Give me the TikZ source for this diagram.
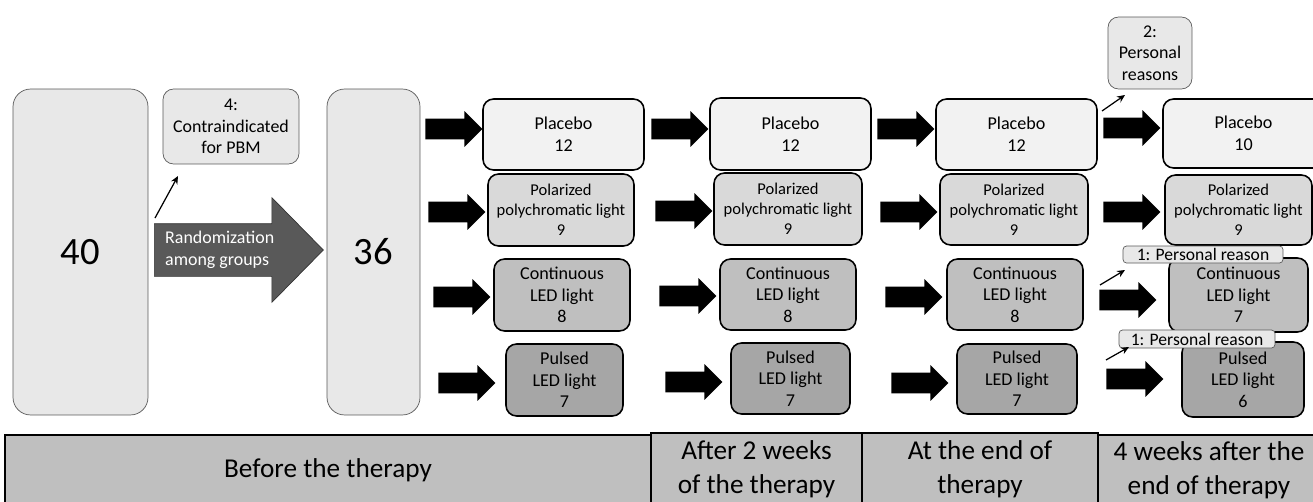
\documentclass[tikz,border=0pt]{standalone}
\usepackage{fontspec}
\setmainfont{Carlito}
\usetikzlibrary{shapes.arrows,arrows.meta}

\begin{document}
\begin{tikzpicture}[x=0.02cm,y=-0.02cm,
        granite/.style={draw=black!65, fill=black!9, rounded corners=6pt, align=center, inner sep=0pt, font=\fontsize{10.2}{12.3}\selectfont},
        group/.style={draw=black, line width=0.9pt, rounded corners=6pt, align=center, inner sep=0pt, font=\fontsize{10.3}{12.3}\selectfont},
        placebo/.style={group, fill=black!5},
        polar/.style={group, fill=black!15, font=\fontsize{9.4}{11.4}\selectfont},
        cont/.style={group, fill=black!25},
        pulse/.style={group, fill=black!35},
        blockarrow/.style={single arrow, anchor=tail, fill=black, inner xsep=0pt, inner ysep=0.2cm, minimum height=1.14cm, single arrow head extend=0.15cm, single arrow tip angle=90},
        dropout/.style={-{Stealth[length=4.5pt,width=4pt]}, line width=0.7pt},
        period/.style={draw=black, line width=0.9pt, fill=black!25, inner sep=0pt, align=center, font=\fontsize{15.5}{19.5}\selectfont}
    ]
    \useasboundingbox (0,0) rectangle (1313,501);

    % enrolment and randomization
    \node[granite, minimum width=2.7cm, minimum height=6.52cm, rounded corners=10pt, font=\fontsize{22}{26}\selectfont] (n40) at (80.5,252) {40};
    \node[granite, minimum width=2.72cm, minimum height=1.5cm] (excl) at (231,126.5) {4:\\Contraindicated\\for PBM};
    \node[granite, minimum width=1.86cm, minimum height=6.52cm, rounded corners=10pt, font=\fontsize{22}{26}\selectfont] (n36) at (373.5,252) {36};
    \node[single arrow, anchor=tail, draw=black!80, fill=black!65, inner xsep=0pt, inner ysep=0.52cm, minimum height=3.38cm, single arrow head extend=0.52cm, single arrow tip angle=91] (rand) at (154,250) {};
    \node[anchor=west, align=left, text=white, font=\fontsize{10.2}{12.5}\selectfont] (randtxt) at ([xshift=0.1cm]rand.tail) {Randomization\\among groups};

    \coordinate (d0s) at (155,218);
    \coordinate (d0e) at (178,176);
    \draw[dropout] (d0s) -- (d0e);

    % before the therapy
    \node[blockarrow] (a11) at (425,129) {};
    \node[blockarrow] (a12) at (428,212) {};
    \node[blockarrow] (a13) at (433,297) {};
    \node[blockarrow] (a14) at (438,383) {};

    \node[placebo, minimum width=3.22cm, minimum height=1.42cm] (pl1) at (563.5,134.5) {Placebo\\12};
    \node[polar, minimum width=2.92cm, minimum height=1.44cm] (po1) at (561,210) {Polarized\\polychromatic light\\9};
    \node[cont, minimum width=2.72cm, minimum height=1.44cm] (co1) at (562,295) {Continuous\\LED light\\8};
    \node[pulse, minimum width=2.34cm, minimum height=1.44cm] (pu1) at (564.5,380) {Pulsed\\LED light\\7};

    % after 2 weeks
    \node[blockarrow] (a21) at (651,129) {};
    \node[blockarrow] (a22) at (655,211) {};
    \node[blockarrow] (a23) at (659,296) {};
    \node[blockarrow] (a24) at (665,382) {};

    \node[placebo, minimum width=3.22cm, minimum height=1.44cm] (pl2) at (790.5,134) {Placebo\\12};
    \node[polar, minimum width=2.96cm, minimum height=1.44cm] (po2) at (788,209) {Polarized\\polychromatic light\\9};
    \node[cont, minimum width=2.72cm, minimum height=1.42cm] (co2) at (788,294.5) {Continuous\\LED light\\8};
    \node[pulse, minimum width=2.38cm, minimum height=1.42cm] (pu2) at (790.5,378.5) {Pulsed\\LED light\\7};

    % end of therapy
    \node[blockarrow] (a31) at (877,129) {};
    \node[blockarrow] (a32) at (880,212) {};
    \node[blockarrow] (a33) at (885,297) {};
    \node[blockarrow] (a34) at (891,383) {};

    \node[placebo, minimum width=3.22cm, minimum height=1.42cm] (pl3) at (1016.5,134.5) {Placebo\\12};
    \node[polar, minimum width=2.96cm, minimum height=1.42cm] (po3) at (1014,209.5) {Polarized\\polychromatic light\\9};
    \node[cont, minimum width=2.72cm, minimum height=1.42cm] (co3) at (1015,294.5) {Continuous\\LED light\\8};
    \node[pulse, minimum width=2.40cm, minimum height=1.40cm] (pu3) at (1017,379) {Pulsed\\LED light\\7};

    % 4 weeks after
    \node[blockarrow] (a41) at (1103,128) {};
    \node[blockarrow] (a42) at (1103,212) {};
    \node[blockarrow] (a43) at (1099,300) {};
    \node[blockarrow] (a44) at (1106,379) {};

    \node[placebo, minimum width=3.22cm, minimum height=1.38cm] (pl4) at (1243.5,133.5) {Placebo\\10};
    \node[polar, minimum width=2.94cm, minimum height=1.40cm] (po4) at (1238.5,210) {Polarized\\polychromatic light\\9};
    \node[cont, minimum width=2.78cm, minimum height=1.48cm] (co4) at (1238.5,295) {Continuous\\LED light\\7};
    \node[pulse, minimum width=2.44cm, minimum height=1.50cm] (pu4) at (1243,379.5) {Pulsed\\LED light\\6};

    \node[granite, minimum width=1.68cm, minimum height=1.44cm] (lost1) at (1150,53) {2:\\Personal\\reasons};
    \node[granite, rounded corners=2pt, minimum width=3.2cm, minimum height=0.34cm, font=\fontsize{10}{12}\selectfont] (lost2) at (1203,254.5) {1: Personal reason};
    \node[granite, rounded corners=2pt, minimum width=3.12cm, minimum height=0.36cm, font=\fontsize{10}{12}\selectfont] (lost3) at (1197,339) {1: Personal reason};

    \coordinate (d1s) at (1102,111);
    \coordinate (d1e) at (1125,95);
    \coordinate (d2s) at (1100,285);
    \coordinate (d2e) at (1125,270);
    \coordinate (d3s) at (1106,360);
    \coordinate (d3e) at (1129,347);
    \draw[dropout] (d1s) -- (d1e);
    \draw[dropout] (d2s) -- (d2e);
    \draw[dropout] (d3s) -- (d3e);

    % time line
    \node[period, minimum width=12.92cm, minimum height=1.4cm] (t1) at (328,470) {Before the therapy};
    \node[period, minimum width=4.22cm, minimum height=1.44cm] (t2) at (756.5,469) {After 2 weeks\\of the therapy};
    \node[period, minimum width=4.72cm, minimum height=1.44cm] (t3) at (980,469) {At the end of\\therapy};
    \node[period, minimum width=4.44cm, minimum height=1.4cm] (t4) at (1209,470) {4 weeks after the\\end of therapy};
\end{tikzpicture}
\end{document}
